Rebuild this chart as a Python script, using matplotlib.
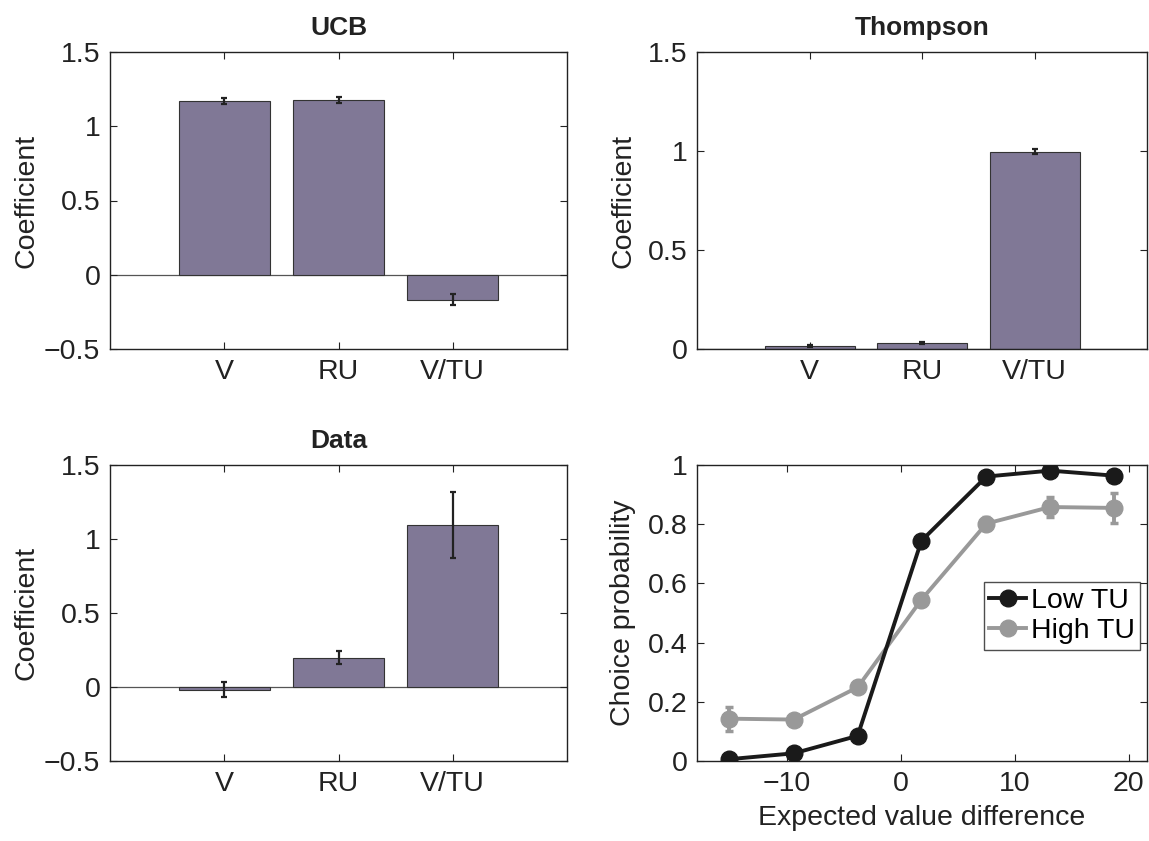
import matplotlib
matplotlib.use("Agg")
import matplotlib.pyplot as plt
from matplotlib.lines import Line2D
import numpy as np

plt.rcParams['font.family'] = ['Liberation Sans', 'DejaVu Sans']

categories = ["V", "RU", "V/TU"]
ucb_vals = [1.169, 1.178, -0.167]
ucb_err = [0.022, 0.020, 0.037]
thompson_vals = [0.017, 0.028, 0.997]
thompson_err = [0.005, 0.005, 0.012]
data_vals = [-0.018, 0.199, 1.095]
data_err = [0.05, 0.042, 0.221]

ev_diff = [-15.1, -9.4, -3.8, 1.8, 7.5, 13.1, 18.7]
low_tu = [0.006, 0.026, 0.085, 0.744, 0.961, 0.981, 0.964]
low_tu_err = [0.005, 0.006, 0.01, 0.015, 0.008, 0.005, 0.006]
high_tu = [0.143, 0.140, 0.249, 0.545, 0.802, 0.858, 0.855]
high_tu_err = [0.04, 0.012, 0.015, 0.02, 0.022, 0.035, 0.05]

bar_color = "#807896"
low_color = "#1a1a1a"
high_color = "#999999"
FS = 20.5
W, H = 1149, 841
fig = plt.figure(figsize=(W / 100, H / 100), dpi=100)

def rect(x0, x1, y0, y1):
    return [x0 / W, 1 - y1 / H, (x1 - x0) / W, (y1 - y0) / H]

ax1 = fig.add_axes(rect(110, 567, 52, 349))
ax2 = fig.add_axes(rect(697, 1147, 52, 349))
ax3 = fig.add_axes(rect(110, 567, 465, 761))
ax4 = fig.add_axes(rect(697, 1147, 465, 761))

def style(ax):
    ax.tick_params(direction='in', top=True, right=True, length=5, width=0.8,
                   labelsize=FS, colors='#222222', pad=7)
    for s in ax.spines.values():
        s.set_linewidth(1.0)
        s.set_color('#222222')

def bar_panel(ax, vals, errs, title, ylim, yticks, yticklabels, lpad):
    x = np.arange(1, len(categories) + 1)
    ax.axhline(0, color='#555555', linewidth=0.9, zorder=1)
    ax.bar(x, vals, width=0.8, color=bar_color, edgecolor='#333333', linewidth=0.8, zorder=2)
    ax.errorbar(x, vals, yerr=errs, fmt='none', ecolor='#222222', elinewidth=1.6,
                capsize=2.5, capthick=1.6, zorder=3)
    ax.set_xlim(0, 4)
    ax.set_ylim(*ylim)
    ax.set_xticks(x)
    ax.set_xticklabels(categories)
    ax.set_yticks(yticks)
    ax.set_yticklabels(yticklabels)
    ax.set_ylabel("Coefficient", fontsize=FS, color='#222222', labelpad=lpad)
    ax.set_title(title, fontsize=19, fontweight='bold', color='#222222', pad=12)
    style(ax)

bar_panel(ax1, ucb_vals, ucb_err, "UCB", (-0.5, 1.5),
          [-0.5, 0, 0.5, 1, 1.5], ["\u22120.5", "0", "0.5", "1", "1.5"], 3)
bar_panel(ax2, thompson_vals, thompson_err, "Thompson", (0, 1.5),
          [0, 0.5, 1, 1.5], ["0", "0.5", "1", "1.5"], 8)
bar_panel(ax3, data_vals, data_err, "Data", (-0.5, 1.5),
          [-0.5, 0, 0.5, 1, 1.5], ["\u22120.5", "0", "0.5", "1", "1.5"], 3)

ax4.errorbar(ev_diff, high_tu, yerr=high_tu_err, color=high_color, linewidth=2.8,
             marker='o', markersize=12, elinewidth=2.8, capsize=3, capthick=2.5, zorder=2)
ax4.errorbar(ev_diff, low_tu, yerr=low_tu_err, color=low_color, linewidth=2.8,
             marker='o', markersize=12, elinewidth=2.8, capsize=3, capthick=2.5, zorder=3)
ax4.set_xlim(-17.9, 21.6)
ax4.set_ylim(0, 1)
ax4.set_xticks([-10, 0, 10, 20])
ax4.set_xticklabels(["\u221210", "0", "10", "20"])
ax4.set_yticks([0, 0.2, 0.4, 0.6, 0.8, 1])
ax4.set_yticklabels(["0", "0.2", "0.4", "0.6", "0.8", "1"])
ax4.set_xlabel("Expected value difference", fontsize=FS, color='#222222', labelpad=6)
ax4.set_ylabel("Choice probability", fontsize=FS, color='#222222', labelpad=8)
style(ax4)
handles = [Line2D([], [], color=low_color, linewidth=2.8, marker='o', markersize=12),
           Line2D([], [], color=high_color, linewidth=2.8, marker='o', markersize=12)]
leg = ax4.legend(handles, ['Low TU', 'High TU'], loc='upper right',
                 bbox_to_anchor=(0.985, 0.605),
                 fontsize=FS, frameon=True, fancybox=False, edgecolor='#222222',
                 handlelength=1.3, handletextpad=0.15, borderpad=0.2, labelspacing=0.15,
                 borderaxespad=0)
leg.get_frame().set_linewidth(1.0)

fig.savefig("out.png", dpi=100)
